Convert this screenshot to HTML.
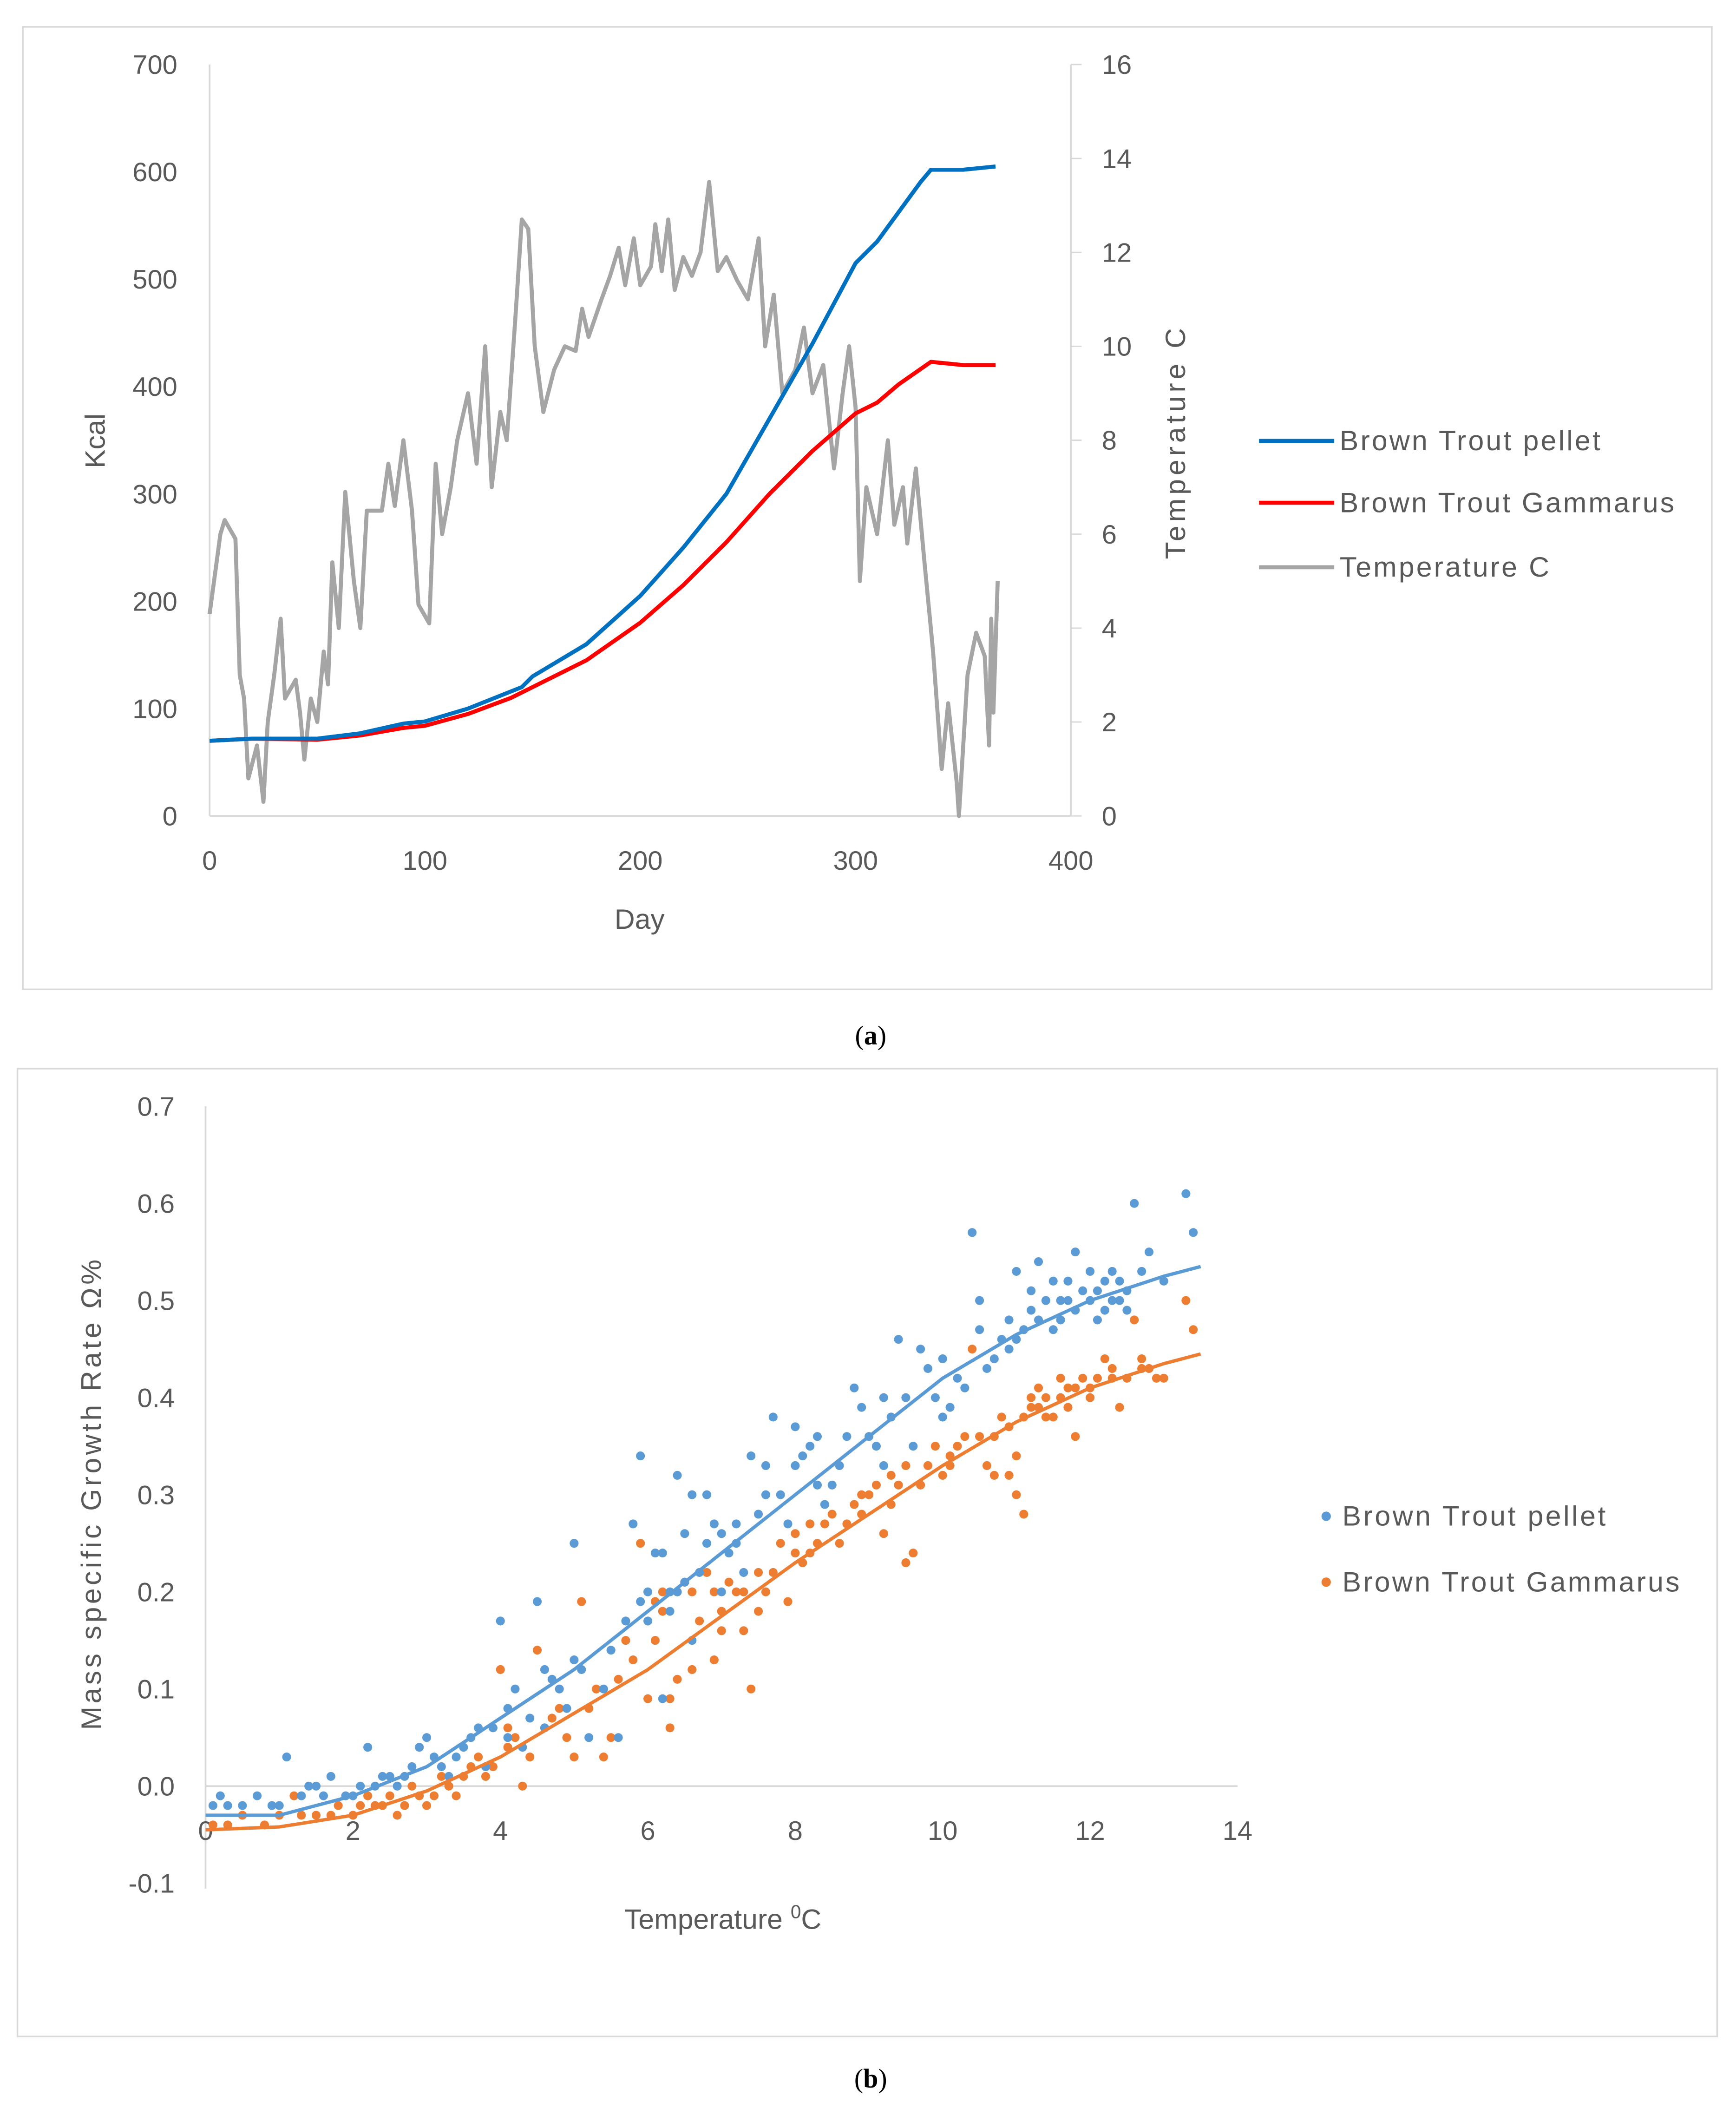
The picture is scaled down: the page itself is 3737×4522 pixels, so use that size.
<!DOCTYPE html>
<html><head><meta charset="utf-8"><style>
html,body{margin:0;padding:0;background:#fff}
svg{display:block}
text{font-family:"Liberation Sans",sans-serif;fill:#595959}
</style></head><body>
<svg id="fig" width="3737" height="4522" viewBox="0 0 1292 1563" preserveAspectRatio="none" xmlns="http://www.w3.org/2000/svg">
<rect x="17" y="20" width="1257" height="716" fill="#fff" stroke="#d9d9d9" stroke-width="1.2"/>
<rect x="13" y="795" width="1265" height="720" fill="#fff" stroke="#d9d9d9" stroke-width="1.2"/>
<g id="ga"></g>
<g id="gb"></g>
<text x="648" y="777" text-anchor="middle" style="font-family:'Liberation Serif',serif;font-size:20px;fill:#000">(<tspan font-weight="bold">a</tspan>)</text>
<text x="648" y="1553" text-anchor="middle" style="font-family:'Liberation Serif',serif;font-size:20px;fill:#000">(<tspan font-weight="bold">b</tspan>)</text>
</svg>
<script>
// ---- Chart A data ----
const aDays = [0,20,50,70,90,100,120,145,150,175,200,220,240,260,280,300,310,330,335,350,365];
const aPellet = [70,72,72,77,86,88,100,120,130,160,205,250,300,370,440,515,535,590,602,602,605];
const aGamDays = [0,20,50,70,90,100,120,140,150,175,200,220,240,260,280,300,310,320,335,350,365];
const aGammarus = [70,72,71,75,82,84,95,110,120,145,180,215,255,300,340,375,385,402,423,420,420];
const tDays = [0,5,7,12,14,16,18,22,25,27,30,33,35,40,42,44,47,50,53,55,57,60,63,67,70,73,80,83,86,90,94,97,102,105,108,112,115,120,124,128,131,135,138,142,145,148,151,155,160,165,170,173,176,182,186,190,193,197,200,205,207,210,213,216,220,224,228,232,236,240,245,250,255,258,262,266,272,276,280,285,290,294,297,300,302,305,310,315,318,322,324,328,332,336,340,343,347,348,352,356,360,362,363,364,366];
const tTemp = [4.3,6,6.3,5.9,3,2.5,0.8,1.5,0.3,2,3,4.2,2.5,2.9,2.2,1.2,2.5,2,3.5,2.8,5.4,4,6.9,5,4,6.5,6.5,7.5,6.6,8,6.5,4.5,4.1,7.5,6,7,8,9,7.5,10,7,8.6,8,10.6,12.7,12.5,10,8.6,9.5,10,9.9,10.8,10.2,11,11.5,12.1,11.3,12.3,11.3,11.7,12.6,11.6,12.7,11.2,11.9,11.5,12,13.5,11.6,11.9,11.4,11,12.3,10,11.1,9,9.5,10.4,9,9.6,7.4,9,10,8.7,5,7,6,8,6.2,7,5.8,7.4,5.4,3.5,1,2.4,0.7,0,3,3.9,3.4,1.5,4.2,2.2,5];
const aXTicks = [0,100,200,300,400];
const aYTicks = [0,100,200,300,400,500,600,700];
const aY2Ticks = [0,2,4,6,8,10,12,14,16];
// ---- Chart B data ----
const bPellet = [[0.1,-0.02],[0.2,-0.01],[0.5,-0.02],[0.7,-0.01],[1.0,-0.02],[1.1,0.03],[1.3,-0.01],[1.5,0.0],[1.7,0.01],[1.9,-0.01],[2.1,0.0],[2.2,0.04],[2.4,0.01],[2.6,0.0],[2.8,0.02],[2.9,0.04],[3.0,0.05],[3.1,0.03],[3.3,0.01],[3.5,0.04],[3.7,0.06],[3.8,0.02],[4.0,0.17],[4.1,0.05],[4.2,0.1],[4.3,0.04],[4.5,0.19],[4.7,0.11],[4.9,0.08],[5.0,0.25],[5.0,0.13],[5.2,0.05],[5.4,0.1],[5.6,0.05],[5.8,0.27],[5.9,0.34],[6.0,0.2],[6.1,0.24],[6.2,0.09],[6.4,0.32],[6.5,0.26],[6.6,0.15],[6.8,0.3],[6.9,0.27],[7.0,0.2],[7.2,0.25],[7.4,0.34],[7.6,0.3],[7.7,0.38],[7.9,0.27],[8.0,0.37],[8.2,0.35],[8.4,0.29],[8.6,0.33],[8.8,0.41],[9.0,0.36],[9.2,0.4],[9.4,0.46],[9.6,0.35],[9.8,0.43],[10.0,0.38],[10.2,0.42],[10.4,0.57],[10.5,0.5],[10.7,0.44],[10.9,0.45],[11.0,0.53],[11.2,0.49],[11.3,0.54],[11.5,0.47],[11.7,0.52],[11.8,0.55],[12.0,0.5],[12.1,0.48],[12.3,0.53],[12.5,0.51],[12.6,0.6],[12.8,0.55],[13.0,0.52],[13.3,0.61],[13.4,0.57],[6.3,0.2],[7.1,0.24],[8.3,0.31],[9.1,0.35],[10.6,0.43],[11.6,0.5],[12.2,0.52],[5.5,0.14],[4.4,0.07],[3.4,0.03],[2.7,0.01],[6.7,0.22],[7.5,0.28],[8.7,0.36],[9.9,0.4],[11.1,0.47],[12.4,0.5],
[0.3,-0.02],[0.9,-0.02],[1.4,0.0],[1.6,-0.01],[2.0,-0.01],[2.3,0.0],[2.5,0.01],[3.2,0.02],[3.6,0.05],[3.9,0.06],[4.1,0.08],[4.6,0.06],[4.8,0.1],[5.1,0.12],[5.7,0.17],[6.0,0.17],[6.2,0.24],[6.3,0.18],[6.5,0.21],[6.6,0.3],[6.8,0.25],[7.0,0.26],[7.3,0.22],[7.6,0.33],[7.8,0.3],[8.1,0.34],[8.3,0.36],[8.5,0.31],[8.9,0.39],[9.2,0.33],[9.5,0.4],[9.7,0.45],[10.0,0.44],[10.1,0.39],[10.3,0.41],[10.5,0.47],[10.8,0.46],[11.0,0.46],[11.2,0.51],[11.3,0.48],[11.4,0.5],[11.6,0.48],[11.7,0.5],[11.9,0.51],[12.0,0.53],[12.1,0.51],[12.2,0.49],[12.3,0.5],[12.4,0.52],[12.5,0.49],[12.7,0.53],[11.5,0.52],[11.8,0.49],[10.9,0.48],[9.3,0.38],[8.0,0.33],[7.2,0.27],[6.4,0.2],[5.9,0.19],[4.6,0.12]];
const bGammarus = [[0.1,-0.04],[0.5,-0.03],[1.0,-0.03],[1.2,-0.01],[1.5,-0.03],[1.8,-0.02],[2.0,-0.03],[2.2,-0.01],[2.4,-0.02],[2.6,-0.03],[2.8,0.0],[3.0,-0.02],[3.2,0.01],[3.4,-0.01],[3.6,0.02],[3.8,0.01],[4.0,0.12],[4.1,0.04],[4.3,0.0],[4.5,0.14],[4.6,0.06],[4.8,0.08],[5.0,0.03],[5.1,0.19],[5.3,0.1],[5.5,0.05],[5.7,0.15],[5.9,0.25],[6.0,0.09],[6.2,0.18],[6.3,0.06],[6.5,0.21],[6.6,0.12],[6.8,0.22],[6.9,0.13],[7.0,0.18],[7.2,0.2],[7.4,0.1],[7.5,0.18],[7.7,0.22],[7.9,0.19],[8.0,0.26],[8.2,0.24],[8.4,0.27],[8.6,0.25],[8.8,0.29],[9.0,0.3],[9.2,0.26],[9.4,0.31],[9.6,0.24],[9.8,0.33],[10.0,0.32],[10.2,0.35],[10.4,0.45],[10.6,0.33],[10.8,0.38],[11.0,0.3],[11.2,0.4],[11.4,0.38],[11.6,0.42],[11.8,0.36],[12.0,0.41],[12.2,0.44],[12.4,0.39],[12.6,0.48],[12.8,0.43],[13.0,0.42],[13.3,0.5],[13.4,0.47],[5.4,0.03],[6.4,0.11],[7.3,0.16],[8.1,0.23],[9.3,0.29],[10.1,0.34],[11.3,0.39],[12.3,0.42],[4.2,0.05],[3.5,0.01],[2.5,-0.01],[6.1,0.15],[7.6,0.2],[8.9,0.28],[10.7,0.36],[11.7,0.41],[12.7,0.44],
[0.3,-0.04],[0.8,-0.04],[1.3,-0.03],[1.7,-0.03],[2.1,-0.02],[2.3,-0.02],[2.7,-0.02],[2.9,-0.01],[3.1,-0.01],[3.3,0.0],[3.7,0.03],[3.9,0.02],[4.1,0.06],[4.4,0.03],[4.7,0.07],[4.9,0.05],[5.2,0.08],[5.6,0.11],[5.8,0.13],[6.1,0.19],[6.2,0.2],[6.4,0.2],[6.6,0.2],[6.7,0.17],[6.9,0.2],[7.1,0.21],[7.3,0.2],[7.5,0.22],[7.8,0.25],[8.0,0.24],[8.2,0.27],[8.3,0.25],[8.5,0.28],[8.7,0.27],[8.9,0.3],[9.1,0.31],[9.3,0.32],[9.5,0.33],[9.7,0.31],[9.9,0.35],[10.1,0.33],[10.3,0.36],[10.5,0.36],[10.7,0.32],[10.9,0.37],[11.1,0.38],[11.2,0.39],[11.3,0.41],[11.4,0.4],[11.5,0.38],[11.6,0.4],[11.7,0.39],[11.8,0.41],[11.9,0.42],[12.0,0.4],[12.1,0.42],[12.3,0.43],[12.5,0.42],[12.7,0.43],[12.9,0.42],[11.0,0.34],[11.1,0.28],[10.9,0.32],[9.5,0.23],[7.0,0.16],[6.3,0.09]];
const bPelletTrendX = [0,1,2,3,4,5,6,7,8,9,10,11,12,13,13.5];
const bPelletTrendY = [-0.03,-0.03,-0.01,0.02,0.07,0.12,0.18,0.24,0.3,0.36,0.42,0.465,0.5,0.525,0.535];
const bGamTrendY = [-0.045,-0.042,-0.03,-0.005,0.03,0.075,0.12,0.175,0.23,0.28,0.33,0.375,0.41,0.435,0.445];
const bXTicks = [0,2,4,6,8,10,12,14];
const bYTicks = [-0.1,0.0,0.1,0.2,0.3,0.4,0.5,0.6,0.7];

const NS="http://www.w3.org/2000/svg";
function mk(parent,tag,attrs,txt){const e=document.createElementNS(NS,tag);for(const k in attrs)e.setAttribute(k,attrs[k]);if(txt!==undefined)e.textContent=txt;parent.appendChild(e);return e;}
// ---- Chart A ----
const ga=document.getElementById('ga');
const ax=d=>156+(797-156)*d/400, ay=v=>607-(607-48)*v/700, ay2=t=>607-(607-48)*t/16;
let e;
e=mk(ga,'line',{x1:156,y1:48,x2:156,y2:607,stroke:'#d9d9d9','stroke-width':1.3});

e=mk(ga,'line',{x1:797,y1:48,x2:797,y2:607,stroke:'#d9d9d9','stroke-width':1.3});

e=mk(ga,'line',{x1:156,y1:607,x2:797,y2:607,stroke:'#d9d9d9','stroke-width':1.3});

aYTicks.forEach(v=>{e=mk(ga,'text',{x:132,y:ay(v)+7,'text-anchor':'end','font-size':20},String(v));
});
aY2Ticks.forEach(v=>{mk(ga,'line',{x1:797,y1:ay2(v),x2:805,y2:ay2(v),stroke:'#d9d9d9'});
e=mk(ga,'text',{x:820,y:ay2(v)+7,'font-size':20},String(v));
});
aXTicks.forEach(v=>{e=mk(ga,'text',{x:ax(v),y:647,'text-anchor':'middle','font-size':20},String(v));
});
e=mk(ga,'text',{x:476,y:691,'text-anchor':'middle','font-size':21},'Day');

e=mk(ga,'text',{x:0,y:0,'text-anchor':'middle','font-size':21,transform:'translate(78,328) rotate(-90)'},'Kcal');

e=mk(ga,'text',{x:0,y:0,'text-anchor':'middle','font-size':21,textLength:172,transform:'translate(882,330) rotate(-90)'},'Temperature C');

e=mk(ga,'polyline',{points:tDays.map((d,i)=>ax(d)+','+ay2(tTemp[i])).join(' '),fill:'none',stroke:'#a5a5a5','stroke-width':3,'stroke-linejoin':'round'});

e=mk(ga,'polyline',{points:aGamDays.map((d,i)=>ax(d)+','+ay(aGammarus[i])).join(' '),fill:'none',stroke:'#ff0000','stroke-width':3,'stroke-linejoin':'round'});

e=mk(ga,'polyline',{points:aDays.map((d,i)=>ax(d)+','+ay(aPellet[i])).join(' '),fill:'none',stroke:'#0070c0','stroke-width':3,'stroke-linejoin':'round'});

[['Brown Trout pellet','#0070c0',328,194],['Brown Trout Gammarus','#ff0000',374,249],['Temperature C','#a5a5a5',422,156]].forEach(l=>{
e=mk(ga,'line',{x1:937,y1:l[2],x2:993,y2:l[2],stroke:l[1],'stroke-width':3});

e=mk(ga,'text',{x:997,y:l[2]+7,'font-size':21,textLength:l[3]},l[0]);
});
// ---- Chart B ----
const gb=document.getElementById('gb');
const bx=t=>153+(921-153)*t/14, by=v=>1401-(1401-823)*(v+0.1)/0.8;
e=mk(gb,'line',{x1:153,y1:823,x2:153,y2:1405,stroke:'#d9d9d9','stroke-width':1.3});

e=mk(gb,'line',{x1:153,y1:by(0),x2:921,y2:by(0),stroke:'#d9d9d9','stroke-width':1.3});

bYTicks.forEach(v=>{e=mk(gb,'text',{x:130,y:by(v)+7,'text-anchor':'end','font-size':20},v.toFixed(1));
});
bXTicks.forEach(v=>{e=mk(gb,'text',{x:bx(v),y:by(0)+40,'text-anchor':'middle','font-size':20},String(v));
});
e=mk(gb,'text',{x:538,y:1435,'text-anchor':'middle','font-size':21},'Temperature ');

mk(e,'tspan',{dy:-8,'font-size':14},'0');mk(e,'tspan',{dy:8},'C');
e=mk(gb,'text',{x:0,y:0,'text-anchor':'middle','font-size':21,textLength:350,transform:'translate(75,1112) rotate(-90)'},'Mass specific Growth Rate Ω%');

bGammarus.forEach(p=>{e=mk(gb,'circle',{cx:bx(p[0]),cy:by(p[1]),r:3.3,fill:'#ed7d31'});
});
bPellet.forEach(p=>{e=mk(gb,'circle',{cx:bx(p[0]),cy:by(p[1]),r:3.3,fill:'#5b9bd5'});
});
e=mk(gb,'polyline',{points:bPelletTrendX.map((t,i)=>bx(t)+','+by(bPelletTrendY[i])).join(' '),fill:'none',stroke:'#5b9bd5','stroke-width':2.5});

e=mk(gb,'polyline',{points:bPelletTrendX.map((t,i)=>bx(t)+','+by(bGamTrendY[i])).join(' '),fill:'none',stroke:'#ed7d31','stroke-width':2.5});

[['Brown Trout pellet','#5b9bd5',1128,196],['Brown Trout Gammarus','#ed7d31',1177,251]].forEach(l=>{
e=mk(gb,'circle',{cx:987,cy:l[2],r:3.5,fill:l[1]});

e=mk(gb,'text',{x:999,y:l[2]+7,'font-size':21,textLength:l[3]},l[0]);
});
</script>
</body></html>
